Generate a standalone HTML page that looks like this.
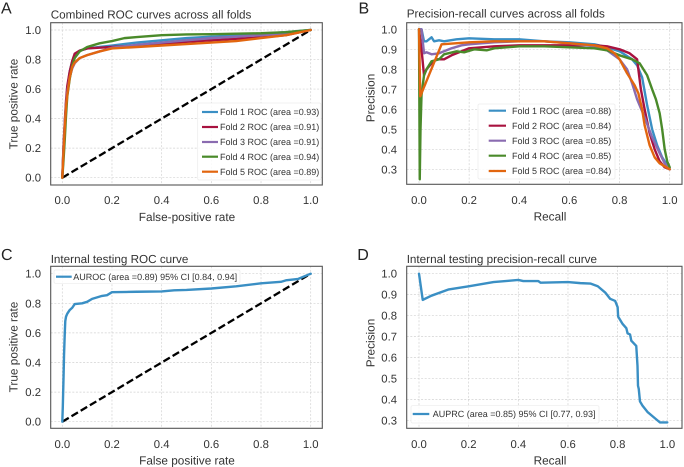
<!DOCTYPE html>
<html>
<head>
<meta charset="utf-8">
<style>
html,body{margin:0;padding:0;background:#fff;}
svg{display:block;font-family:"Liberation Sans",Arial,sans-serif;filter:blur(0.3px);text-rendering:geometricPrecision;}
</style>
</head>
<body>
<svg id="fig" width="684" height="467" viewBox="0 0 684 467" xmlns="http://www.w3.org/2000/svg"></svg>
<script>
const rocTicks = [0, 0.2, 0.4, 0.6, 0.8, 1.0];
const prTicks = [0.3, 0.4, 0.5, 0.6, 0.7, 0.8, 0.9, 1.0];
const colors = ['#3a8fc4', '#a8123f', '#8a6bb0', '#4a8a2a', '#e2660f'];

const rocLabelsTrain = ['Fold 1 ROC (area =0.93)', 'Fold 2 ROC (area =0.91)', 'Fold 3 ROC (area =0.91)', 'Fold 4 ROC (area =0.94)', 'Fold 5 ROC (area =0.89)'];
const prLabelsTrain = ['Fold 1 ROC (area =0.88)', 'Fold 2 ROC (area =0.84)', 'Fold 3 ROC (area =0.85)', 'Fold 4 ROC (area =0.85)', 'Fold 5 ROC (area =0.84)'];

const rocFold1X = [0, 0.005, 0.01, 0.015, 0.02, 0.03, 0.04, 0.05, 0.07, 0.1, 0.15, 0.2, 0.3, 0.4, 0.5, 0.6, 0.7, 0.8, 0.9, 1];
const rocFold1Y = [0, 0.2, 0.36, 0.5, 0.6, 0.72, 0.79, 0.83, 0.86, 0.875, 0.885, 0.895, 0.915, 0.93, 0.945, 0.955, 0.965, 0.975, 0.985, 1];
const rocFold2X = [0, 0.005, 0.01, 0.015, 0.02, 0.03, 0.04, 0.05, 0.07, 0.1, 0.15, 0.2, 0.3, 0.4, 0.5, 0.6, 0.7, 0.8, 0.9, 1];
const rocFold2Y = [0, 0.22, 0.38, 0.52, 0.62, 0.72, 0.79, 0.84, 0.86, 0.875, 0.88, 0.885, 0.895, 0.905, 0.92, 0.93, 0.94, 0.95, 0.965, 1];
const rocFold3X = [0, 0.005, 0.01, 0.015, 0.02, 0.03, 0.04, 0.05, 0.07, 0.1, 0.15, 0.2, 0.3, 0.4, 0.5, 0.6, 0.7, 0.8, 0.9, 1];
const rocFold3Y = [0, 0.2, 0.36, 0.49, 0.58, 0.68, 0.74, 0.775, 0.81, 0.83, 0.855, 0.88, 0.9, 0.915, 0.93, 0.945, 0.955, 0.965, 0.975, 1];
const rocFold4X = [0, 0.005, 0.01, 0.015, 0.02, 0.03, 0.04, 0.05, 0.07, 0.1, 0.15, 0.2, 0.25, 0.3, 0.4, 0.5, 0.6, 0.7, 0.8, 0.9, 1];
const rocFold4Y = [0, 0.12, 0.26, 0.42, 0.55, 0.67, 0.76, 0.81, 0.855, 0.885, 0.91, 0.925, 0.945, 0.952, 0.965, 0.97, 0.972, 0.975, 0.978, 0.985, 1];
const rocFold5X = [0, 0.005, 0.01, 0.015, 0.02, 0.03, 0.04, 0.05, 0.07, 0.1, 0.15, 0.2, 0.3, 0.4, 0.5, 0.6, 0.7, 0.8, 0.9, 1];
const rocFold5Y = [0, 0.18, 0.34, 0.48, 0.56, 0.68, 0.75, 0.78, 0.81, 0.83, 0.855, 0.875, 0.885, 0.895, 0.905, 0.915, 0.925, 0.945, 0.965, 1];

const prFold1X = [0, 0.01, 0.02, 0.03, 0.04, 0.05, 0.06, 0.08, 0.1, 0.15, 0.2, 0.3, 0.4, 0.5, 0.6, 0.7, 0.75, 0.8, 0.85, 0.87, 0.89, 0.91, 0.93, 0.95, 0.97, 0.99, 1];
const prFold1Y = [1, 1, 0.94, 0.94, 0.95, 0.96, 0.94, 0.945, 0.94, 0.95, 0.955, 0.95, 0.95, 0.94, 0.935, 0.925, 0.91, 0.89, 0.85, 0.82, 0.76, 0.62, 0.5, 0.42, 0.36, 0.32, 0.3];
const prFold2X = [0, 0.01, 0.02, 0.03, 0.05, 0.07, 0.1, 0.13, 0.17, 0.2, 0.3, 0.4, 0.5, 0.6, 0.7, 0.75, 0.8, 0.84, 0.87, 0.875, 0.885, 0.9, 0.92, 0.94, 0.96, 0.98, 1];
const prFold2Y = [1, 0.9, 0.77, 0.8, 0.83, 0.85, 0.85, 0.87, 0.89, 0.905, 0.915, 0.92, 0.92, 0.92, 0.92, 0.915, 0.9, 0.88, 0.85, 0.8, 0.7, 0.6, 0.48, 0.4, 0.34, 0.31, 0.3];
const prFold3X = [0, 0.01, 0.02, 0.03, 0.05, 0.08, 0.1, 0.13, 0.17, 0.2, 0.3, 0.4, 0.5, 0.6, 0.7, 0.75, 0.8, 0.83, 0.85, 0.87, 0.9, 0.93, 0.96, 0.98, 1];
const prFold3Y = [1, 1, 0.88, 0.885, 0.875, 0.88, 0.89, 0.905, 0.92, 0.925, 0.935, 0.94, 0.94, 0.93, 0.915, 0.895, 0.85, 0.8, 0.73, 0.65, 0.56, 0.46, 0.38, 0.33, 0.3];
const prFold4X = [0, 0.003, 0.006, 0.01, 0.02, 0.03, 0.05, 0.08, 0.1, 0.15, 0.18, 0.22, 0.27, 0.3, 0.4, 0.5, 0.6, 0.7, 0.75, 0.8, 0.85, 0.88, 0.91, 0.93, 0.945, 0.96, 0.97, 0.98, 0.99, 1];
const prFold4Y = [1, 0.25, 0.5, 0.67, 0.77, 0.8, 0.84, 0.85, 0.875, 0.89, 0.885, 0.9, 0.895, 0.905, 0.915, 0.915, 0.91, 0.905, 0.895, 0.87, 0.85, 0.83, 0.77, 0.7, 0.65, 0.58, 0.5, 0.4, 0.34, 0.31];
const prFold5X = [0, 0.005, 0.09, 0.2, 0.3, 0.4, 0.5, 0.6, 0.7, 0.75, 0.78, 0.8, 0.83, 0.86, 0.875, 0.89, 0.9, 0.92, 0.94, 0.96, 0.98, 1];
const prFold5Y = [1, 0.665, 0.925, 0.935, 0.94, 0.94, 0.94, 0.93, 0.92, 0.905, 0.88, 0.85, 0.78, 0.72, 0.68, 0.6, 0.52, 0.42, 0.36, 0.33, 0.315, 0.3];

const testRocX = [0, 0.002, 0.005, 0.007, 0.01, 0.012, 0.015, 0.02, 0.03, 0.04, 0.05, 0.08, 0.1, 0.12, 0.14, 0.16, 0.18, 0.2, 0.3, 0.4, 0.45, 0.5, 0.6, 0.7, 0.8, 0.88, 0.9, 0.95, 1];
const testRocY = [0, 0.1, 0.3, 0.45, 0.6, 0.68, 0.71, 0.73, 0.755, 0.77, 0.795, 0.8, 0.81, 0.83, 0.84, 0.85, 0.855, 0.875, 0.878, 0.88, 0.888, 0.89, 0.9, 0.915, 0.935, 0.945, 0.955, 0.965, 1];
const testPrX = [0, 0.015, 0.05, 0.12, 0.2, 0.3, 0.4, 0.42, 0.48, 0.49, 0.6, 0.65, 0.69, 0.72, 0.75, 0.77, 0.79, 0.8, 0.802, 0.82, 0.835, 0.84, 0.85, 0.855, 0.875, 0.88, 0.882, 0.885, 0.89, 0.9, 0.92, 0.94, 0.97, 1];
const testPrY = [1, 0.875, 0.895, 0.925, 0.94, 0.96, 0.97, 0.965, 0.965, 0.957, 0.96, 0.955, 0.953, 0.94, 0.91, 0.88, 0.87, 0.84, 0.795, 0.76, 0.74, 0.715, 0.71, 0.68, 0.655, 0.56, 0.465, 0.45, 0.39, 0.37, 0.34, 0.32, 0.29, 0.29];
const diagonal = [0, 1];

const NS = 'http://www.w3.org/2000/svg';
const fig = document.getElementById('fig');
function mk(parent, tag, attrs, text) {
  const el = document.createElementNS(NS, tag);
  for (const k in attrs) el.setAttribute(k, attrs[k]);
  if (text !== undefined) el.textContent = text;
  parent.appendChild(el);
  return el;
}
function txt(parent, name, x, y, s, size, anchor, fill, rot) {
  const attrs = {x: x, y: y, 'font-size': size, 'text-anchor': anchor || 'start', fill: fill || '#333'};
  if (rot) attrs.transform = 'rotate(-90 ' + x + ' ' + y + ')';
  const el = mk(parent, 'text', attrs, s);
  
  
  return el;
}
function panel(c) {
  const g = mk(fig, 'g', {});
  
  
  const sx = v => c.x0 + (v - 0) * (c.x1 - c.x0);
  const sy = v => c.yA + (v - c.vA) * (c.yB - c.yA) / (c.vB - c.vA);
  const f = c.frame;

  txt(g, 'panel-letter', c.letter[0], c.letter[1], c.letter[2], 16, 'start', '#222');
  txt(g, 'chart-title', f[0], c.titleY, c.title, 11.7);

  rocTicks.forEach(t => {
    const gl = mk(g, 'line', {x1: sx(t), x2: sx(t), y1: f[1], y2: f[3], stroke: '#d2d2d2', 'stroke-width': 0.7, 'stroke-dasharray': '2 1.6'});
    
    
    txt(g, 'x-tick-label', sx(t), c.xTickY, t.toFixed(1), 11.3, 'middle');
  });
  c.yTicks.forEach(t => {
    const gl = mk(g, 'line', {x1: f[0], x2: f[2], y1: sy(t), y2: sy(t), stroke: '#d2d2d2', 'stroke-width': 0.7, 'stroke-dasharray': '2 1.6'});
    
    
    txt(g, 'y-tick-label', c.yTickX, sy(t) + 4, t.toFixed(1), 11.3, 'end');
  });

  txt(g, 'x-axis-title', c.xLabel[0], c.xLabel[1], c.xLabel[2], 11.8, 'middle');
  txt(g, 'y-axis-title', c.yLabel[0], c.yLabel[1], c.yLabel[2], 11.8, 'middle', '#333', true);

  if (c.diag) {
    const d = mk(g, 'line', {x1: sx(diagonal[0]), y1: sy(diagonal[0]), x2: sx(diagonal[1]), y2: sy(diagonal[1]), stroke: '#000', 'stroke-width': 2.3, 'stroke-dasharray': '7.5 3.2'});
    
    
  }

  c.series.forEach((s, i) => {
    const pts = s.x.map((v, j) => sx(v).toFixed(2) + ',' + sy(s.y[j]).toFixed(2)).join(' ');
    const p = mk(g, 'polyline', {points: pts, fill: 'none', stroke: s.color, 'stroke-width': 2.4, 'stroke-linejoin': 'round', 'stroke-linecap': 'round'});
    
    
  });

  const L = c.legend;
  const lg = mk(g, 'g', {});
  
  
  mk(lg, 'rect', {x: L.box[0], y: L.box[1], width: L.box[2] - L.box[0], height: L.box[3] - L.box[1], fill: '#fff', 'fill-opacity': 0.85, stroke: '#ececec', 'stroke-width': 0.7, rx: 1.5});
  c.series.forEach((s, i) => {
    const row = L.rows[i];
    const h = mk(lg, 'line', {x1: L.h0, x2: L.h1, y1: row, y2: row, stroke: s.color, 'stroke-width': 2.2});
    
    
    txt(lg, 'legend-entry', L.tx, row + 3.1, s.label, 9, 'start', '#333');
  });

  const fr = mk(g, 'rect', {x: f[0], y: f[1], width: f[2] - f[0], height: f[3] - f[1], fill: 'none', stroke: '#555', 'stroke-width': 1.1});
  
  
}

panel({
  name: 'panel-a-roc-folds', letter: [1, 13.5, 'A'], title: 'Combined ROC curves across all folds', titleY: 18.5,
  frame: [50.7, 22.7, 322.3, 185], x0: 62.3, x1: 310.7, vA: 0, yA: 177.7, vB: 1, yB: 30, yTicks: rocTicks,
  xTickY: 204, yTickX: 41, xLabel: [187, 221, 'False-positive rate'], yLabel: [17.5, 104, 'True positive rate'], diag: true,
  series: [
    {x: rocFold1X, y: rocFold1Y, color: colors[0], label: rocLabelsTrain[0]},
    {x: rocFold2X, y: rocFold2Y, color: colors[1], label: rocLabelsTrain[1]},
    {x: rocFold3X, y: rocFold3Y, color: colors[2], label: rocLabelsTrain[2]},
    {x: rocFold4X, y: rocFold4Y, color: colors[3], label: rocLabelsTrain[3]},
    {x: rocFold5X, y: rocFold5Y, color: colors[4], label: rocLabelsTrain[4]}
  ],
  legend: {box: [197.7, 103, 321, 180], rows: [112, 127, 142, 156.7, 171.7], h0: 202, h1: 218, tx: 220}
});
panel({
  name: 'panel-b-pr-folds', letter: [358.5, 13.5, 'B'], title: 'Precision-recall curves across all folds', titleY: 17.5,
  frame: [406.7, 22.7, 682, 184.3], x0: 419, x1: 669.7, vA: 1, yA: 29.3, vB: 0.3, yB: 169.3, yTicks: prTicks,
  xTickY: 204, yTickX: 397, xLabel: [550, 220.5, 'Recall'], yLabel: [374.5, 98, 'Precision'], diag: false,
  series: [
    {x: prFold1X, y: prFold1Y, color: colors[0], label: prLabelsTrain[0]},
    {x: prFold2X, y: prFold2Y, color: colors[1], label: prLabelsTrain[1]},
    {x: prFold3X, y: prFold3Y, color: colors[2], label: prLabelsTrain[2]},
    {x: prFold4X, y: prFold4Y, color: colors[3], label: prLabelsTrain[3]},
    {x: prFold5X, y: prFold5Y, color: colors[4], label: prLabelsTrain[4]}
  ],
  legend: {box: [478, 104, 615, 179], rows: [110.7, 125.7, 140.7, 155.7, 171], h0: 488.7, h1: 506, tx: 512}
});
panel({
  name: 'panel-c-test-roc', letter: [1, 260, 'C'], title: 'Internal testing ROC curve', titleY: 263,
  frame: [50.7, 266.3, 322.3, 428.3], x0: 62.3, x1: 310.7, vA: 0, yA: 421.7, vB: 1, yB: 273.7, yTicks: rocTicks,
  xTickY: 448, yTickX: 41, xLabel: [187, 464.7, 'False positive rate'], yLabel: [17.5, 347, 'True positive rate'], diag: true,
  series: [{x: testRocX, y: testRocY, color: colors[0], label: 'AUROC (area =0.89) 95% CI [0.84, 0.94]'}],
  legend: {box: [54, 270, 240, 283.3], rows: [276.7], h0: 56, h1: 71.7, tx: 73.3}
});
panel({
  name: 'panel-d-test-pr', letter: [357.3, 260, 'D'], title: 'Internal testing precision-recall curve', titleY: 263,
  frame: [406.7, 266.3, 682, 428.3], x0: 419, x1: 667.3, vA: 1, yA: 273.7, vB: 0.3, yB: 420.3, yTicks: prTicks,
  xTickY: 448, yTickX: 397, xLabel: [550, 464.7, 'Recall'], yLabel: [374.5, 343, 'Precision'], diag: false,
  series: [{x: testPrX, y: testPrY, color: colors[0], label: 'AUPRC (area =0.85) 95% CI [0.77, 0.93]'}],
  legend: {box: [411, 405.7, 599, 423], rows: [414], h0: 412.7, h1: 429.3, tx: 432.7}
});
</script>
</body>
</html>
